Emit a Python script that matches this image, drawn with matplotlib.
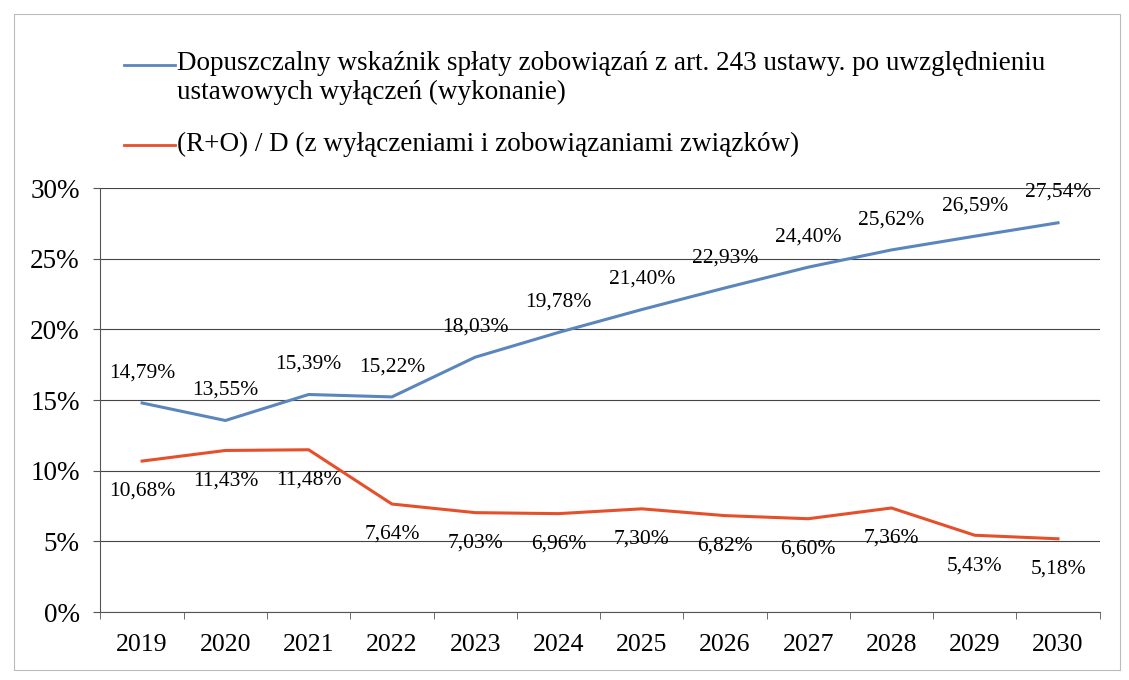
import matplotlib.pyplot as plt
from matplotlib.lines import Line2D
from matplotlib.patches import Rectangle

plt.rcParams.update({"font.family": ["Liberation Serif", "DejaVu Serif"]})

years = ["2019", "2020", "2021", "2022", "2023", "2024",
         "2025", "2026", "2027", "2028", "2029", "2030"]
wskaznik = [14.79, 13.55, 15.39, 15.22, 18.03, 19.78,
            21.40, 22.93, 24.40, 25.62, 26.59, 27.54]
ro_d = [10.68, 11.43, 11.48, 7.64, 7.03, 6.96,
        7.30, 6.82, 6.60, 7.36, 5.43, 5.18]

label_blue = ("Dopuszczalny wskaźnik spłaty zobowiązań z art. 243 ustawy. po uwzględnieniu\n"
              "ustawowych wyłączeń (wykonanie)")
label_red = "(R+O) / D (z wyłączeniami i zobowiązaniami związków)"

BLUE = "#5b86bd"
RED = "#e5502a"

fig = plt.figure(figsize=(11.29, 6.8), dpi=100)
ax = fig.add_axes([0.089, 0.1, 0.885, 0.6235])

x = range(len(years))
ax.plot(x, wskaznik, color=BLUE, lw=2.2)
ax.plot(x, ro_d, color=RED, lw=2.2)

for i, v in enumerate(wskaznik):
    ax.annotate(f"{v:.2f}%".replace(".", ","), (i, v), xytext=(0, 15),
                textcoords="offset points", ha="center", va="bottom", fontsize=15.5)
for i, v in enumerate(ro_d):
    ax.annotate(f"{v:.2f}%".replace(".", ","), (i, v), xytext=(0, -15),
                textcoords="offset points", ha="center", va="top", fontsize=15.5)

ax.set_xlim(-0.5, len(years) - 0.5)
ax.set_ylim(0, 30)
ax.set_yticks(range(0, 31, 5))
ax.set_yticklabels([f"{t}%" for t in range(0, 31, 5)], fontsize=19.5)
ax.set_xticks(list(x))
ax.set_xticklabels(years, fontsize=18.5)
ax.set_xticks([i + 0.5 for i in range(-1, len(years))], minor=True)
ax.tick_params(axis="x", which="major", length=0, pad=16)
ax.tick_params(axis="x", which="minor", length=5, color="#555555")
ax.tick_params(axis="y", length=5, color="#555555", pad=10)
ax.grid(axis="y", color="#444444", lw=0.8)
ax.set_axisbelow(True)
for s in ["top", "right"]:
    ax.spines[s].set_visible(False)
for s in ["left", "bottom"]:
    ax.spines[s].set_color("#555555")
    ax.spines[s].set_linewidth(0.8)

# legend at the top
fig.add_artist(Line2D([0.11, 0.155], [0.905, 0.905], color=BLUE, lw=2,
                      transform=fig.transFigure))
fig.text(0.157, 0.925, label_blue, fontsize=19.5, va="top", ha="left", linespacing=1.2)
fig.add_artist(Line2D([0.11, 0.155], [0.787, 0.787], color=RED, lw=2,
                      transform=fig.transFigure))
fig.text(0.157, 0.787, label_red, fontsize=19.5, va="center", ha="left")

fig.add_artist(Rectangle((0.012, 0.015), 0.98, 0.965, fill=False,
                         edgecolor="#bbbbbb", lw=0.8, transform=fig.transFigure))

fig.savefig("out.png")
